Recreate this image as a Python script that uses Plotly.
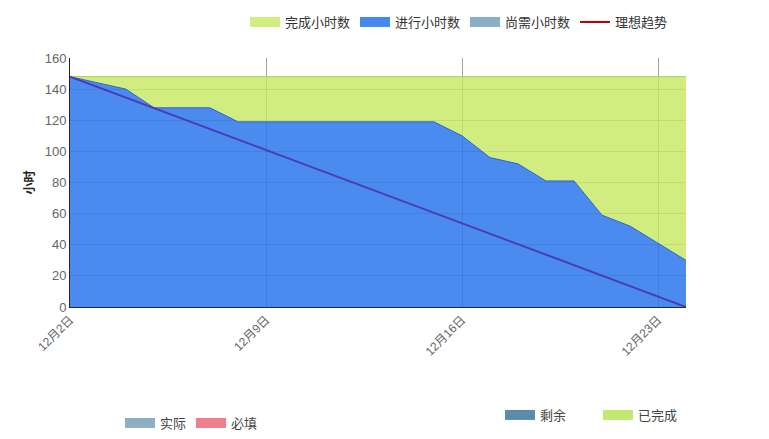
import plotly.graph_objects as go

days = [f"12月{d}日" for d in range(2, 25)]
in_progress = [148, 144, 140, 128, 128, 128, 119, 119, 119, 119, 119, 119, 119, 119,
               110, 96, 92, 81, 81, 59, 52, 41, 30]
total_hours = 148
ideal_x = [days[0], days[-1]]
ideal_y = [148, 0]
tick_labels = ["12月2日", "12月9日", "12月16日", "12月23日"]

FONT = "Liberation Sans, Noto Sans CJK SC, sans-serif"

fig = go.Figure()

fig.add_trace(go.Scatter(
    x=days, y=in_progress, mode="lines", name="进行小时数",
    line=dict(color="#2f62c8", width=1),
    fill="tozeroy", fillcolor="rgba(45,120,236,0.86)",
    showlegend=False, hoverinfo="skip"))
fig.add_trace(go.Scatter(
    x=days, y=[total_hours] * len(days), mode="lines", name="完成小时数",
    line=dict(color="#a9cf4a", width=1),
    fill="tonexty", fillcolor="rgba(196,232,92,0.78)",
    showlegend=False, hoverinfo="skip"))
fig.add_trace(go.Scatter(
    x=ideal_x, y=ideal_y, mode="lines", name="理想趋势",
    line=dict(color="#4b3bb8", width=2), showlegend=False, hoverinfo="skip"))

def legend_box(name, color, legend="legend"):
    return go.Scatter(x=[None], y=[None], mode="lines", name=name, legend=legend,
                      line=dict(color=color, width=12), hoverinfo="skip")

# legend-only entries (top)
fig.add_trace(legend_box("完成小时数", "#d2ee7e"))
fig.add_trace(legend_box("进行小时数", "#4689ee"))
fig.add_trace(legend_box("尚需小时数", "#8aaec4"))
fig.add_trace(go.Scatter(x=[None], y=[None], mode="lines", name="理想趋势",
                         line=dict(color="#b00010", width=2)))

# bottom legends
fig.add_trace(legend_box("实际", "#8eaec4", "legend2"))
fig.add_trace(legend_box("必填", "#ee7f8c", "legend2"))
fig.add_trace(legend_box("剩余", "#5b8ba8", "legend3"))
fig.add_trace(legend_box("已完成", "#c2e870", "legend3"))

fig.update_layout(
    width=761, height=431,
    margin=dict(l=62, r=83, t=50, b=132, autoexpand=False),
    paper_bgcolor="white", plot_bgcolor="white",
    font=dict(family=FONT, size=12, color="#555"),
    showlegend=True,
    legend=dict(orientation="h", x=0.3114, y=0.9675, xanchor="left", yanchor="middle",
                xref="container", yref="container", font=dict(size=13, color="#333"),
                itemwidth=30, traceorder="normal", bgcolor="rgba(0,0,0,0)"),
    legend2=dict(orientation="h", x=0.1472, y=0.0371, xanchor="left", yanchor="middle",
                 xref="container", yref="container", font=dict(size=13, color="#444"),
                 itemwidth=30, bgcolor="rgba(0,0,0,0)"),
    legend3=dict(orientation="h", x=0.6465, y=0.0557, xanchor="left", yanchor="middle",
                 xref="container", yref="container", font=dict(size=13, color="#444"),
                 itemwidth=30, entrywidth=53, bgcolor="rgba(0,0,0,0)"),
    xaxis=dict(type="category", range=[0, len(days) - 1],
               tickmode="array", tickvals=tick_labels, ticktext=tick_labels,
               tickangle=-45, tickfont=dict(size=12, color="#666"),
               showgrid=True, gridcolor="rgba(90,90,90,0.55)", gridwidth=1,
               showline=True, linecolor="#1d2a50", linewidth=1,
               ticks="", zeroline=False),
    yaxis=dict(range=[0, 160], dtick=20, tickfont=dict(size=13, color="#666"),
               showgrid=True, gridcolor="rgba(90,90,90,0.45)", gridwidth=1,
               showline=True, linecolor="#222", linewidth=1, zeroline=False,
               title=dict(text="<b>小时</b>", font=dict(size=12, color="#222"), standoff=7)),
)

fig.write_html("out.html")
